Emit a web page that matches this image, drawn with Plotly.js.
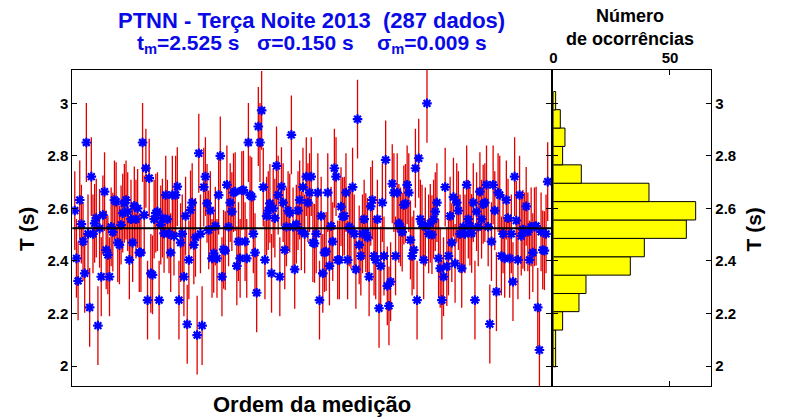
<!DOCTYPE html>
<html><head><meta charset="utf-8">
<script src="https://cdn.plot.ly/plotly-3.0.1.min.js"></script>
<style>html,body{margin:0;padding:0;background:#fff}#chart{width:799px;height:420px}</style>
</head><body><div id="chart"></div>
<script>
const seg1 = [2.592,2.41,2.324,2.632,2.54,2.474,2.353,2.851,2.503,2.223,2.721,2.503,2.543,2.563,2.154,2.524,2.34,2.575,2.664,2.442,2.423,2.34,2.53,2.51,2.632,2.626,2.47,2.461,2.537,2.582,2.619,2.632,2.588,2.404,2.559,2.47,2.61,2.559,2.6,2.432,2.432,2.851,2.575,2.753,2.251,2.715,2.353,2.347,2.559];
const seg2 = [2.582,2.588,2.251,2.537,2.563,2.505,2.651,2.559,2.503,2.432,2.651,2.495,2.651,2.683,2.251,2.47,2.503,2.34,2.571,2.159,2.404,2.594,2.622,2.461,2.49,2.118,2.81,2.503,2.154,2.681,2.721,2.619,2.518,2.592,2.41,2.429,2.533,2.41,2.651,2.8,2.34,2.444,2.439,2.69,2.53,2.622,2.588,2.66];
const seg3 = [2.664,2.381,2.474,2.41,2.668,2.67,2.474,2.41,2.851,2.651,2.645,2.503,2.432,2.279,2.912,2.851,2.973,2.681,2.404,2.571,2.592,2.619,2.353,2.6,2.563,2.762,2.651,2.34,2.683,2.622,2.442,2.53,2.592,2.582,2.88,2.53,2.368,2.54,2.592,2.632,2.515,2.681,2.503,2.721,2.622,2.66,2.721,2.47];
const seg4 = [2.467,2.503,2.66,2.251,2.571,2.353,2.432,2.436,2.66,2.381,2.533,2.474,2.753,2.721,2.404,2.404,2.607,2.569,2.571,2.66,2.404,2.53,2.52,2.681,2.503,2.368,2.94,2.461,2.419,2.503,2.559,2.508,2.49,2.34,2.608,2.632,2.419,2.404,2.559,2.22,2.381,2.622,2.419,2.785,2.305,2.229,2.321,2.694,2.66];
const seg5 = [2.419,2.66,2.543,2.53,2.51,2.613,2.619,2.69,2.66,2.48,2.419,2.442,2.753,2.251,2.791,2.559,2.54,2.404,2.53,3.0,2.503,2.543,2.5,2.559,2.588,2.622,2.41,2.372,2.251,2.34,2.681,2.379,2.419,2.571,2.47,2.643,2.391,2.622,2.592,2.503,2.372,2.53,2.503,2.69,2.559,2.533,2.505,2.622,2.251];
const seg6 = [2.588,2.53,2.664,2.559,2.616,2.622,2.69,2.53,2.16,2.474,2.69,2.592,2.283,2.66,2.651,2.419,2.503,2.41,2.632,2.563,2.41,2.503,2.321,2.721,2.554,2.404,2.651,2.495,2.52,2.511,2.608,2.511,2.404,2.53,2.432,2.53,2.533,2.223,2.061,2.511,2.442,2.439,2.503,2.702];

const tMean = 2.525;   // t_m
const sigma = 0.150;   // σ (error bar half-length)

// Histogram (Número de ocorrências)
const binCenters = [2.032,2.102,2.172,2.242,2.311,2.381,2.451,2.521,2.591,2.661,2.731,2.801,2.871,2.941,3.010];
const binCounts  = [1,1,4,11,14,33,39,57,61,41,12,4,5,3,1];
const binWidth = 0.0699;

const yTicks = [2,2.2,2.4,2.6,2.8,3];
const yTickText = ["2","2.2","2.4","2.6","2.8","3"];
const hTicks = [0,50];
const hTickText = ["0","50"];

const T = [].concat(seg1,seg2,seg3,seg4,seg5,seg6);
const order = T.map((_, i) => i + 1);

const FONT = "Liberation Sans, Arial, Helvetica, sans-serif";
const tickFont = {family: FONT, size: 15, color: '#000', weight: 'bold'};

const traces = [
  {
    type: 'scatter', mode: 'markers', x: order, y: T, xaxis: 'x', yaxis: 'y',
    marker: {symbol: 'asterisk-open', size: 8, color: '#0000ff', line: {color: '#0000ff', width: 2.2}},
    error_y: {type: 'constant', value: sigma, color: '#e00000', thickness: 1.3, width: 0},
    showlegend: false, hoverinfo: 'x+y'
  },
  {
    type: 'bar', orientation: 'h', x: binCounts, y: binCenters, width: binWidth,
    xaxis: 'x2', yaxis: 'y2',
    marker: {color: '#ffff00', line: {color: '#000', width: 1}},
    showlegend: false
  }
];

const yDom = [1 - 386/420, 1 - 70/420];
const layout = {
  width: 799, height: 420,
  margin: {l: 0, r: 0, t: 0, b: 0},
  paper_bgcolor: '#fff', plot_bgcolor: '#fff',
  font: {family: FONT, color: '#000'},
  showlegend: false,
  xaxis: {domain: [72.3/799, 551/799], range: [-0.5, 289], showticklabels: false, ticks: '',
    showline: true, mirror: true, linecolor: '#000', linewidth: 1, showgrid: false, zeroline: false},
  yaxis: {domain: yDom, range: [1.924, 3.127], tickvals: yTicks, ticktext: yTickText,
    ticks: 'inside', ticklen: 5, tickcolor: '#000', mirror: 'ticks', showline: true, linecolor: '#000',
    linewidth: 1, showgrid: false, zeroline: false, tickfont: tickFont},
  xaxis2: {domain: [553.3/799, 711.3/799], anchor: 'y2', side: 'top', range: [0, 67.7],
    tickvals: hTicks, ticktext: hTickText, ticks: 'inside', ticklen: 5, tickcolor: '#000', mirror: 'ticks',
    showline: true, linecolor: '#000', linewidth: 1, showgrid: false, zeroline: false, tickfont: tickFont},
  yaxis2: {domain: yDom, anchor: 'x2', side: 'right', range: [1.924, 3.127], tickvals: yTicks, ticktext: yTickText,
    ticks: 'inside', ticklen: 5, tickcolor: '#000', mirror: 'ticks', showline: true, linecolor: '#000',
    linewidth: 1, showgrid: false, zeroline: false, tickfont: tickFont},
  shapes: [{type: 'line', xref: 'x domain', yref: 'y', x0: 0, x1: 1, y0: tMean, y1: tMean,
    line: {color: '#000', width: 2}, layer: 'above'}],
  annotations: [
    {xref: 'paper', yref: 'paper', x: 311.5/799, y: 1 - 20/420, xanchor: 'center', yanchor: 'middle', showarrow: false,
     text: '<b>PTNN - Terça Noite 2013\u00a0\u00a0(287 dados)</b>', font: {family: FONT, size: 22, color: '#0a0ae6'}},
    {xref: 'paper', yref: 'paper', x: 311.5/799, y: 1 - 29/420, xanchor: 'center', yanchor: 'top', showarrow: false,
     text: '<b>t<sub>m</sub>=2.525 s\u00a0\u00a0\u00a0σ=0.150 s\u00a0\u00a0\u00a0\u00a0σ<sub>m</sub>=0.009 s</b>', font: {family: FONT, size: 21, color: '#0a0ae6'}},
    {xref: 'paper', yref: 'paper', x: 630/799, y: 1 - 28/420, xanchor: 'center', yanchor: 'middle', showarrow: false,
     text: '<b>Número<br>de ocorrências</b>', font: {family: FONT, size: 18, color: '#000'}},
    {xref: 'paper', yref: 'paper', x: 311.5/799, y: 1 - 404/420, xanchor: 'center', yanchor: 'middle', showarrow: false,
     text: '<b>Ordem da medição</b>', font: {family: FONT, size: 22, color: '#000'}},
    {xref: 'paper', yref: 'paper', x: 27/799, y: 1 - 229/420, xanchor: 'center', yanchor: 'middle', showarrow: false,
     textangle: -90, text: '<b>T (s)</b>', font: {family: FONT, size: 21, color: '#000'}},
    {xref: 'paper', yref: 'paper', x: 752.5/799, y: 1 - 230/420, xanchor: 'center', yanchor: 'middle', showarrow: false,
     textangle: -90, text: '<b>T (s)</b>', font: {family: FONT, size: 21, color: '#000'}}
  ]
};

Plotly.newPlot('chart', traces, layout, {displayModeBar: false, staticPlot: true});
</script>
</body></html>
